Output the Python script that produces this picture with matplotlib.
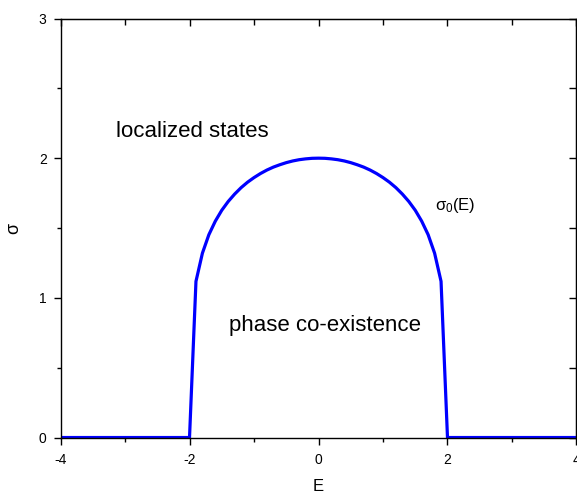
import matplotlib
matplotlib.use("Agg")
import matplotlib.pyplot as plt

plt.rcParams['font.family'] = ['Liberation Sans', 'DejaVu Sans']
plt.rcParams['mathtext.fontset'] = 'custom'
plt.rcParams['mathtext.rm'] = 'Liberation Sans'
plt.rcParams['mathtext.it'] = 'Liberation Sans'

# data
E = [-4.0, -2.0, -1.9, -1.8, -1.7, -1.6, -1.5, -1.4, -1.3, -1.2, -1.1, -1.0,
     -0.9, -0.8, -0.7, -0.6, -0.5, -0.4, -0.3, -0.2, -0.1, 0.0,
     0.1, 0.2, 0.3, 0.4, 0.5, 0.6, 0.7, 0.8, 0.9, 1.0,
     1.1, 1.2, 1.3, 1.4, 1.5, 1.6, 1.7, 1.8, 1.9, 2.0, 4.0]
sigma = [0.0, 0.0, 1.118, 1.320, 1.452, 1.549, 1.627, 1.690, 1.743, 1.789, 1.828, 1.861,
         1.890, 1.915, 1.936, 1.953, 1.968, 1.980, 1.989, 1.995, 1.999, 2.000,
         1.999, 1.995, 1.989, 1.980, 1.968, 1.953, 1.936, 1.915, 1.890, 1.861,
         1.828, 1.789, 1.743, 1.690, 1.627, 1.549, 1.452, 1.320, 1.118, 0.0, 0.0]
xticks = [-4, -2, 0, 2, 4]
xminor = [-3, -1, 1, 3]
yticks = [0, 1, 2, 3]
yminor = [0.5, 1.5, 2.5]

fig = plt.figure(figsize=(5.77, 4.96), dpi=100)
ax = fig.add_axes([0.1049, 0.1179, 0.8942, 0.8448])
ax.plot(E, sigma, color='#0000FF', lw=2.3, solid_joinstyle='miter')
ax.set_xlim(-4, 4)
ax.set_ylim(0, 3)

ax.set_xticks(xticks)
ax.set_xticks(xminor, minor=True)
ax.set_yticks(yticks)
ax.set_yticks(yminor, minor=True)
ax.set_xticklabels([str(t) for t in xticks])
ax.set_yticklabels([str(t) for t in yticks])
ax.tick_params(axis='x', which='major', direction='out', length=5, width=1, labelsize=10, pad=6)
ax.tick_params(axis='y', which='major', direction='out', length=5, width=1, labelsize=10, pad=5)
ax.tick_params(which='minor', direction='out', length=3, width=1)

secx = ax.secondary_xaxis('top')
secx.set_xticks(xticks)
secx.set_xticks(xminor, minor=True)
secx.tick_params(which='major', direction='in', length=5, width=1, labeltop=False)
secx.tick_params(which='minor', direction='in', length=4, width=1)
secy = ax.secondary_yaxis('right')
secy.set_yticks(yticks)
secy.set_yticks(yminor, minor=True)
secy.tick_params(which='major', direction='in', length=5, width=1, labelright=False)
secy.tick_params(which='minor', direction='in', length=5, width=1)

for s in ax.spines.values():
    s.set_linewidth(1.0)

ax.set_xlabel('E', fontsize=12, labelpad=9)
ax.set_ylabel('σ', fontsize=13, labelpad=12)

ax.text(-1.96, 2.19, 'localized states', fontsize=16, ha='center', va='center')
ax.text(0.10, 0.80, 'phase co-existence', fontsize=16, ha='center', va='center')
ax.text(2.12, 1.66, 'σ$_0$(E)', fontsize=12, ha='center', va='center')

fig.savefig('out.png', dpi=100)
